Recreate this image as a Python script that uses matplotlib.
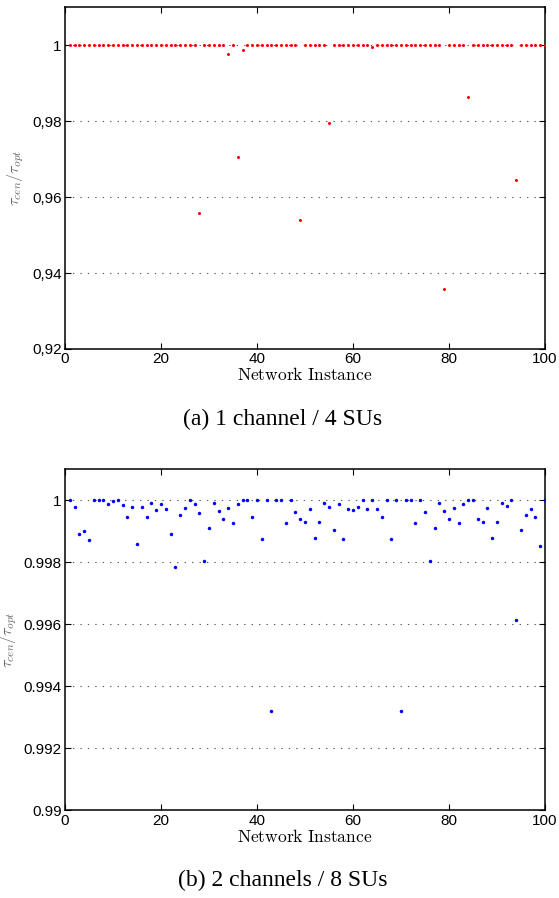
import matplotlib
matplotlib.use("Agg")
import matplotlib.pyplot as plt

plt.rcParams["font.family"] = ["Liberation Sans", "DejaVu Sans"]
plt.rcParams["mathtext.fontset"] = "cm"

# instancias de red 1..100
instancias = list(range(1, 101))

# (a) 1 canal / 4 SUs
ratio_1ch = [
    1, 1, 1, 1, 1, 1, 1, 1, 1, 1,
    1, 1, 1, 1, 1, 1, 1, 1, 1, 1,
    1, 1, 1, 1, 1, 1, 1, 0.9558, 1, 1,
    1, 1, 1, 0.9976, 1, 0.9705, 0.9987, 1, 1, 1,
    1, 1, 1, 1, 1, 1, 1, 1, 0.9539, 1,
    1, 1, 1, 1, 0.9795, 1, 1, 1, 1, 1,
    1, 1, 1, 0.9996, 1, 1, 1, 1, 1, 1,
    1, 1, 1, 1, 1, 1, 1, 1, 0.9359, 1,
    1, 1, 1, 0.9863, 1, 1, 1, 1, 1, 1,
    1, 1, 1, 0.9646, 1, 1, 1, 1, 1, 1,
]

# (b) 2 canales / 8 SUs
ratio_2ch = [
    1.0, 0.99978, 0.99892, 0.99902, 0.99873, 1.0, 1.0, 1.0, 0.99988, 0.99997,
    1.0, 0.99986, 0.99945, 0.99980, 0.99861, 0.99978, 0.99948, 0.99992, 0.99969, 0.99990,
    0.99974, 0.99892, 0.99786, 0.99954, 0.99977, 1.0, 0.99987, 0.99961, 0.99806, 0.99911,
    0.99991, 0.99965, 0.99941, 0.99976, 0.99928, 0.99987, 1.0, 1.0, 0.99946, 1.0,
    0.99875, 1.0, 0.99321, 1.0, 1.0, 0.99928, 1.0, 0.99962, 0.99939, 0.99931,
    0.99974, 0.99878, 0.99931, 0.99991, 0.99980, 0.99905, 0.99989, 0.99874, 0.99974, 0.99970,
    0.99978, 1.0, 0.99973, 1.0, 0.99972, 0.99945, 1.0, 0.99875, 1.0, 0.99321,
    1.0, 1.0, 0.99928, 1.0, 0.99962, 0.99805, 0.99910, 0.99991, 0.99965, 0.99941,
    0.99976, 0.99928, 0.99987, 1.0, 1.0, 0.99939, 0.99931, 0.99975, 0.99878, 0.99931,
    0.99991, 0.99981, 1.0, 0.99615, 0.99904, 0.99953, 0.99972, 0.99946, 0.99854, 1.0,
]

xticks = [0, 20, 40, 60, 80, 100]
yticks_1ch = [0.92, 0.94, 0.96, 0.98, 1.0]
ylabels_1ch = ["0,92", "0,94", "0,96", "0,98", "1"]
yticks_2ch = [0.99, 0.992, 0.994, 0.996, 0.998, 1.0]
ylabels_2ch = ["0.99", "0.992", "0.994", "0.996", "0.998", "1"]

captions = ["(a) 1 channel / 4 SUs", "(b) 2 channels / 8 SUs"]


def estilo_ejes(ax, yticks, ylabels, ylim, label_x):
    ax.set_xlim(0, 100)
    ax.set_ylim(*ylim)
    ax.set_xticks(xticks)
    ax.set_yticks(yticks)
    ax.set_yticklabels(ylabels)
    ax.tick_params(direction="in", length=4, width=0.8, labelsize=11,
                   top=True, right=True, pad=2.5)
    for s in ax.spines.values():
        s.set_linewidth(1.1)
        s.set_color("black")
    ax.yaxis.grid(True, linestyle=(0, (1.2, 5.5)), linewidth=0.8, color="0.35")
    ax.set_axisbelow(True)
    ax.set_xlabel(r"$\mathrm{Network\ Instance}$", fontsize=12.6, labelpad=0)
    ax.set_ylabel(r"$\tau_{cen}/\tau_{opt}$", fontsize=11.5, color="0.4")
    ax.yaxis.label.set_va("center")
    ax.yaxis.set_label_coords(label_x, 0.5)


fig = plt.figure(figsize=(5.59, 8.98), dpi=100)

ax1 = fig.add_axes([0.1163, 0.6114, 0.8587, 0.3805])
ax1.plot(instancias, ratio_1ch, "o", color="#ff0000", markersize=2.2,
         markeredgewidth=0, zorder=3)
estilo_ejes(ax1, yticks_1ch, ylabels_1ch, (0.92, 1.01), -0.102)

ax2 = fig.add_axes([0.1163, 0.0977, 0.8587, 0.3795])
ax2.plot(instancias, ratio_2ch, "o", color="#0000ff", markersize=2.5,
         markeredgewidth=0, zorder=3)
estilo_ejes(ax2, yticks_2ch, ylabels_2ch, (0.99, 1.001), -0.117)

fig.text(0.505, 1 - 425 / 898, captions[0], ha="center", va="baseline",
         fontsize=17, family=["Liberation Serif", "DejaVu Serif"])
fig.text(0.505, 1 - 886 / 898, captions[1], ha="center", va="baseline",
         fontsize=17, family=["Liberation Serif", "DejaVu Serif"])

fig.savefig("out.png", dpi=100)
